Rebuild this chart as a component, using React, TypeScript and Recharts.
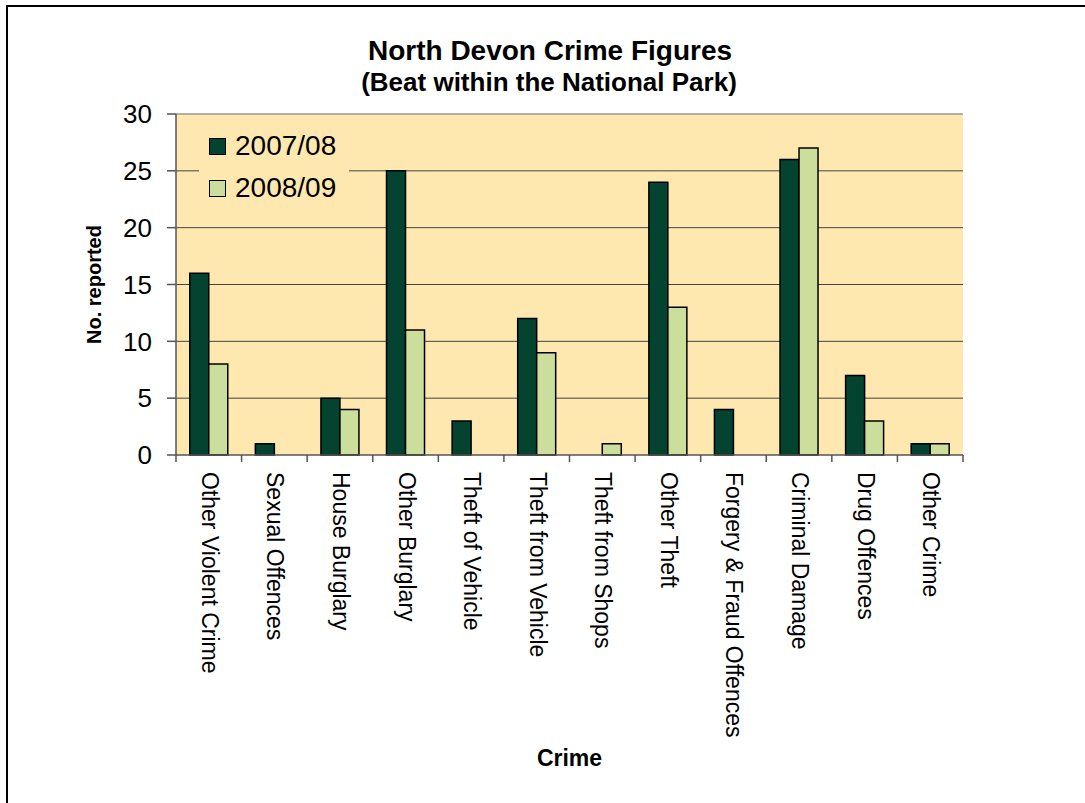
import { BarChart, Bar, XAxis, YAxis, CartesianGrid, Legend, ReferenceLine } from 'recharts';

const crimes = [
  'Other Violent Crime',
  'Sexual Offences',
  'House Burglary',
  'Other Burglary',
  'Theft of Vehicle',
  'Theft from Vehicle',
  'Theft from Shops',
  'Other Theft',
  'Forgery & Fraud Offences',
  'Criminal Damage',
  'Drug Offences',
  'Other Crime',
];
const figures0708 = [16, 1, 5, 25, 3, 12, 0, 24, 4, 26, 7, 1];
const figures0809 = [8, 0, 4, 11, 0, 9, 1, 13, 0, 27, 3, 1];
const yTicks = [0, 5, 10, 15, 20, 25, 30];

const data = crimes.map((crime, i) => ({
  crime,
  y0708: figures0708[i],
  y0809: figures0809[i],
}));

const DARK = '#03432f';
const LIGHT = '#cbde9c';
const PLOT_BG = '#ffe8b0';

const CrimeTick = (props: any) => {
  const { x, y, payload, index } = props;
  const half = payload.offset ?? 0;
  const ty = y + 8;
  return (
    <g>
      <line x1={x - half} x2={x - half} y1={y - 9} y2={y - 2} stroke="#555" strokeWidth={1.5} />
      {index === crimes.length - 1 && (
        <line x1={x + half} x2={x + half} y1={y - 9} y2={y - 2} stroke="#555" strokeWidth={1.5} />
      )}
      <text x={x} y={ty} dy={7} transform={`rotate(90, ${x}, ${ty})`} textAnchor="start" fontSize={23} fill="#000">
        {payload.value}
      </text>
    </g>
  );
};

const LegendBox = (props: any) => {
  const { payload } = props;
  return (
    <div style={{ paddingTop: 7 }}>
      {(payload || []).map((item: any) => (
        <div key={item.value} style={{ display: 'flex', alignItems: 'center', height: 42, paddingLeft: 10 }}>
          <span
            style={{
              display: 'inline-block',
              width: 15,
              height: 15,
              background: item.color,
              border: '1px solid #000',
              marginRight: 9,
            }}
          />
          <span style={{ fontSize: 28, color: '#000' }}>{item.value}</span>
        </div>
      ))}
    </div>
  );
};

const App = () => {
  return (
    <div
      style={{
        position: 'absolute',
        left: 0,
        top: 0,
        width: 1085,
        height: 803,
        overflow: 'hidden',
        background: '#fff',
        fontFamily: '"Liberation Sans", Arial, sans-serif',
      }}
    >
      <div
        style={{
          position: 'absolute',
          left: 6,
          top: 5,
          width: 1200,
          height: 900,
          borderLeft: '2px solid #000',
          borderTop: '2px solid #000',
        }}
      />
      <div style={{ position: 'absolute', left: 0, top: 0 }}>
        <BarChart
          width={1085}
          height={803}
          data={data}
          margin={{ top: 114, right: 122, bottom: 0, left: 76 }}
          barGap={0}
          barCategoryGap="21%"
        >
          <CartesianGrid
            vertical={false}
            horizontalValues={[5, 10, 15, 20, 25]}
            stroke="#444"
            strokeWidth={1}
            fill={PLOT_BG}
          />
          <ReferenceLine y={30} stroke="#999" strokeWidth={1.5} />
          <XAxis
            dataKey="crime"
            interval={0}
            tickLine={false}
            tickSize={7}
            tickMargin={2}
            height={348}
            axisLine={{ stroke: '#555', strokeWidth: 1.5 }}
            tick={<CrimeTick />}
            label={{ value: 'Crime', position: 'insideBottom', offset: 37, fontSize: 23, fontWeight: 'bold', fill: '#000' }}
          />
          <YAxis
            width={100}
            domain={[0, 30]}
            ticks={yTicks}
            interval={0}
            tickSize={9}
            tickMargin={15}
            tick={{ fontSize: 26, fill: '#000' }}
            tickLine={{ stroke: '#555', strokeWidth: 1.5 }}
            axisLine={{ stroke: '#555', strokeWidth: 1.5 }}
            label={{
              content: ({ viewBox }: any) => {
                const cx = viewBox.x + 25;
                const cy = viewBox.y + viewBox.height / 2;
                return (
                  <text x={cx} y={cy} transform={`rotate(-90, ${cx}, ${cy})`} textAnchor="middle" fontSize={20} fontWeight="bold" fill="#000">
                    No. reported
                  </text>
                );
              },
            }}
          />
          <YAxis
            yAxisId="r"
            orientation="right"
            width={0}
            domain={[0, 30]}
            tick={false}
            tickLine={false}
            axisLine={{ stroke: '#999', strokeWidth: 1.5 }}
          />
          <Legend
            layout="horizontal"
            verticalAlign="middle"
            align="center"
            content={<LegendBox />}
            wrapperStyle={{ left: 199, top: 118, width: 150, height: 88, background: PLOT_BG }}
          />
          <Bar dataKey="y0708" name="2007/08" fill={DARK} stroke="#000" strokeWidth={1.5} isAnimationActive={false} />
          <Bar dataKey="y0809" name="2008/09" fill={LIGHT} stroke="#000" strokeWidth={1.5} isAnimationActive={false} />
        </BarChart>
      </div>
      <svg width={1085} height={120} style={{ position: 'absolute', left: 0, top: 0, pointerEvents: 'none' }}>
        <text x={550} y={60} textAnchor="middle" fontSize={28} fontWeight="bold" fill="#000">
          North Devon Crime Figures
        </text>
        <text x={549} y={91} textAnchor="middle" fontSize={26} fontWeight="bold" fill="#000">
          (Beat within the National Park)
        </text>
      </svg>
    </div>
  );
};

export default App;
